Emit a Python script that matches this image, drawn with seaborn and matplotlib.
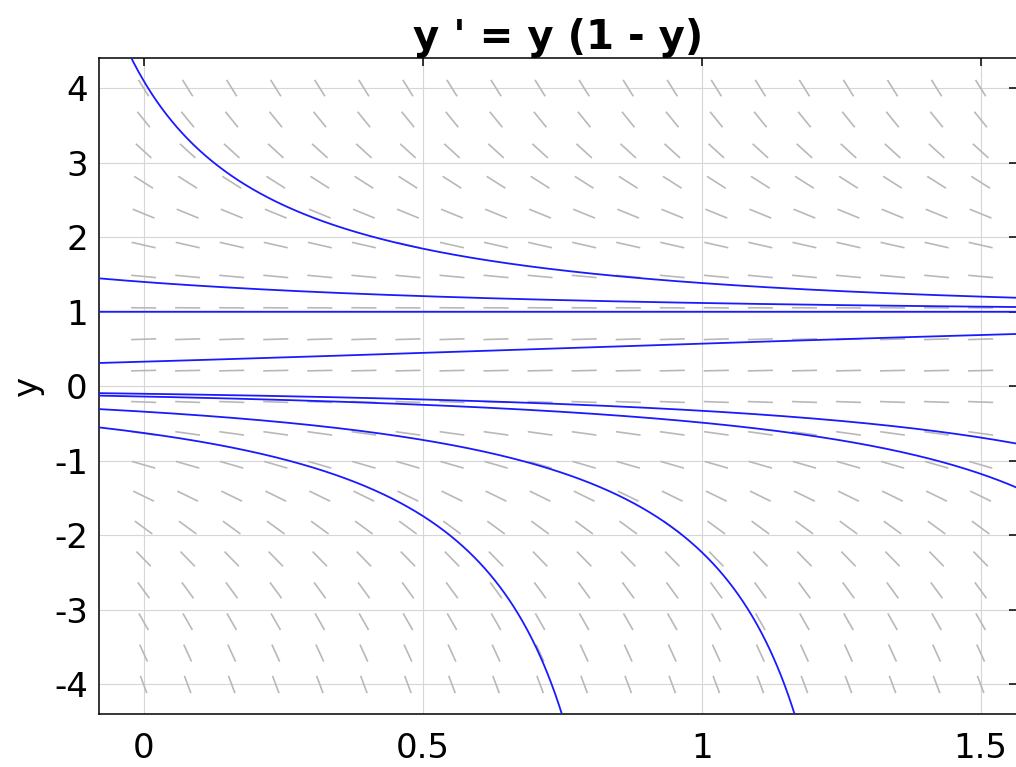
import numpy as np
import pandas as pd
import matplotlib
matplotlib.use("Agg")
import matplotlib.pyplot as plt
import seaborn as sns

# ---- data ----
title_text = "y ' = y (1 - y)"
y_label = "y"
x_ticks = [0, 0.5, 1, 1.5]
x_tick_labels = ["0", "0.5", "1", "1.5"]
y_ticks = [-4, -3, -2, -1, 0, 1, 2, 3, 4]
y_tick_labels = ["-4", "-3", "-2", "-1", "0", "1", "2", "3", "4"]
x_limits = [-0.08, 1.565]
y_limits = [-4.4, 4.4]
field_x = np.linspace(0.0, 1.5, 20)     # slope-field columns
field_y = np.linspace(-4.0, 4.0, 20)    # slope-field rows
initial_x = 0.0
initial_y = [4.1, 1.4, 1.0, 0.33, -0.1, -0.137, -0.34, -0.626]


def rhs(y):
    return y * (1.0 - y)


def solution(t, y0):
    if y0 == 0.0:
        return np.zeros_like(t)
    c = 1.0 / y0 - 1.0
    return 1.0 / (1.0 + c * np.exp(-(t - initial_x)))


sns.set_style("white")
plt.rcParams["font.family"] = ["DejaVu Sans"]
plt.rcParams["text.color"] = "black"
plt.rcParams["axes.labelcolor"] = "black"
plt.rcParams["xtick.color"] = "black"
plt.rcParams["ytick.color"] = "black"

fig = plt.figure(figsize=(10.16, 7.67), dpi=100)
ax = fig.add_axes([0.0974, 0.0687, 0.9035, 0.8553])

# slope field
X, Y = np.meshgrid(field_x, field_y)
S = rhs(Y)
hx = field_x[1] - field_x[0]
hy = field_y[1] - field_y[0]
ux = np.ones_like(S) / hx
uy = S / hy
n = np.sqrt(ux ** 2 + uy ** 2)
frac = 0.57
DX = frac * hx * ux / n
DY = frac * hy * uy / n
ax.quiver(X, Y, DX, DY, angles="xy", scale_units="xy", scale=1,
          pivot="mid", headwidth=0, headlength=0, headaxislength=0,
          width=0.0018, color="#b8b8b8", zorder=2)

# solution curves
t = np.linspace(x_limits[0], x_limits[1], 1200)
for y0 in initial_y:
    if y0 < 0:
        c = 1.0 / y0 - 1.0
        t_blow = initial_x + np.log(-c)
        tt = t[t < t_blow - 1e-4]
    else:
        tt = t
    yy = solution(tt, y0)
    keep = (yy > -30) & (yy < 30)
    df = pd.DataFrame({"t": tt[keep], "y": yy[keep]})
    sns.lineplot(data=df, x="t", y="y", ax=ax, color="#1a1aff",
                 linewidth=1.3, sort=False, estimator=None, zorder=3)

ax.set_xlim(x_limits)
ax.set_ylim(y_limits)
ax.set_xticks(x_ticks)
ax.set_xticklabels(x_tick_labels)
ax.set_yticks(y_ticks)
ax.set_yticklabels(y_tick_labels)
ax.grid(True, color="#d6d6d6", linewidth=0.8, zorder=0)
ax.set_axisbelow(True)

for side in ["top", "bottom", "left", "right"]:
    ax.spines[side].set_visible(True)
    ax.spines[side].set_color("black")
    ax.spines[side].set_linewidth(1.1)

ax.tick_params(axis="both", which="major", direction="in", length=6,
               width=1.1, color="black", labelcolor="black", labelsize=24.5,
               top=True, right=True)
ax.tick_params(axis="x", pad=13)
ax.tick_params(axis="y", pad=8)

ax.set_xlabel("")
ax.set_ylabel(y_label, fontsize=24.5, color="black")
ax.yaxis.set_label_coords(-0.06, 0.5)
ax.set_title(title_text, fontsize=29, fontweight="bold", pad=7, color="black")

fig.savefig("out.png", dpi=100)
